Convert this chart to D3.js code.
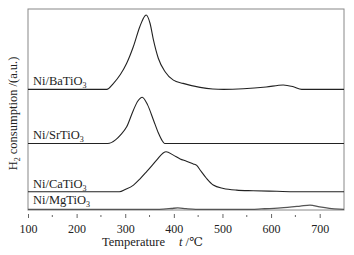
<!DOCTYPE html>
<html>
<head>
<meta charset="utf-8">
<script src="https://cdn.jsdelivr.net/npm/d3@7"></script>
<style>
  body { margin: 0; background: #fff; }
</style>
</head>
<body>
<div id="chart"></div>
<script>
// H2-TPR curves for four Ni/titanate catalysts

// x ticks (temperature, ℃)
const xTicks = [100, 200, 300, 400, 500, 600, 700];
const xMinorTicks = [150, 250, 350, 450, 550, 650];

// series names and vertical offsets (a.u.)
const names = ['BaTiO', 'SrTiO', 'CaTiO', 'MgTiO'];
const offsets = [60.0, 33.1, 9.1, 0.35];

// temperature / signal pairs (signal above its own baseline)
const baT = [100, 262, 275, 290, 303, 316.6, 330, 340.6, 343, 351, 358, 368, 382, 399, 419, 454, 480, 502, 543, 590, 625, 646, 663, 750];
const baV = [0, 0, 2.8, 7.4, 13.0, 21.2, 31.2, 36.6, 37.0, 32.9, 24.6, 15.5, 8.8, 4.6, 3.0, 1.0, 0.2, 0, 0.3, 1.2, 2.2, 1.3, 0, 0];

const srT = [100, 264, 280, 290, 303, 317, 326, 335, 346, 358, 368, 375, 381, 750];
const srV = [0, 0, 1.8, 4.2, 8.3, 16.7, 21.1, 23.0, 19.2, 11.7, 5.3, 1.8, 0, 0];

const caT = [100, 288, 300, 317, 330, 344, 365, 378, 384, 399, 413, 426, 440, 447, 454, 467, 481, 502, 529, 563, 612, 650, 750];
const caV = [0, 0, 1.1, 3.3, 6.3, 10.0, 15.8, 19.3, 19.9, 18.2, 16.3, 15.2, 13.8, 13.1, 10.8, 6.7, 3.3, 1.6, 0.8, 0.5, 0.2, 0, 0];

const mgT = [100, 370, 395, 408, 425, 445, 560, 580, 620, 660, 680, 700, 720, 740, 750];
const mgV = [0, 0, 0.4, 0.7, 0.3, 0, 0, 0.2, 0.7, 1.6, 2.1, 1.2, 0.5, 0.1, 0];

const temps = [baT, srT, caT, mgT];
const values = [baV, srV, caV, mgV];

const width = 354, height = 255;
const margin = { top: 9, right: 10, bottom: 45, left: 28 };
const font = "'Liberation Serif', 'Times New Roman', Times, 'DejaVu Serif', serif";

const svg = d3.select('#chart').append('svg')
    .attr('width', width)
    .attr('height', height)
    .style('display', 'block');

const xScale = d3.scaleLinear()
    .domain([100, 750])
    .range([margin.left, width - margin.right]);

const yScale = d3.scaleLinear()
    .domain([0, 100])
    .range([height - margin.bottom, margin.top]);

const y0 = height - margin.bottom;

// frame
svg.append('rect')
    .attr('x', margin.left)
    .attr('y', margin.top)
    .attr('width', xScale.range()[1] - margin.left)
    .attr('height', y0 - margin.top)
    .attr('fill', 'none')
    .attr('stroke', '#888')
    .attr('stroke-width', 1);

// bottom axis
const xAxis = svg.append('g')
    .attr('transform', `translate(0,${y0})`)
    .call(d3.axisBottom(xScale).tickValues(xTicks).tickSize(8).tickPadding(6));
xAxis.attr('font-family', font).attr('font-size', 12);
xAxis.select('.domain').remove();
xAxis.selectAll('.tick line').attr('y1', 4).attr('stroke', '#666');
xAxis.selectAll('.tick text').attr('fill', '#222');

svg.append('g')
    .selectAll('line')
    .data(xMinorTicks)
    .enter()
    .append('line')
    .attr('x1', d => xScale(d))
    .attr('x2', d => xScale(d))
    .attr('y1', y0 + 5)
    .attr('y2', y0 + 7)
    .attr('stroke', '#666');

// curves
const line = d3.line()
    .x(d => xScale(d[0]))
    .y(d => yScale(d[1]))
    .curve(d3.curveMonotoneX);

names.forEach((name, i) => {
    const pts = temps[i].map((t, j) => [t, values[i][j] + offsets[i]]);
    svg.append('path')
        .datum(pts)
        .attr('fill', 'none')
        .attr('stroke', i === 3 ? '#555' : '#222')
        .attr('stroke-width', i === 3 ? 1.3 : 1.1)
        .attr('d', line);

    // label
    const lbl = svg.append('text')
        .attr('x', 33)
        .attr('y', yScale(offsets[i]) - (i === 3 ? 5 : 4))
        .attr('font-family', font)
        .attr('font-size', 12.5)
        .attr('fill', '#222');
    lbl.append('tspan').text('Ni/' + name);
    lbl.append('tspan').attr('dy', 3).attr('font-size', 8).text('3');
});

// y title
const yt = svg.append('text')
    .attr('transform', `translate(17,${(margin.top + y0) / 2 + 4}) rotate(-90)`)
    .attr('text-anchor', 'middle')
    .attr('font-family', font)
    .attr('font-size', 12.5)
    .attr('fill', '#222');
yt.append('tspan').text('H');
yt.append('tspan').attr('dy', 3).attr('font-size', 8).text('2');
yt.append('tspan').attr('dy', -3).text(' consumption /(a.u.)');

// x title
const xt = svg.append('text')
    .attr('x', 102)
    .attr('y', 246)
    .attr('font-family', font)
    .attr('font-size', 12.5)
    .attr('fill', '#222');
xt.append('tspan').text('Temperature');
xt.append('tspan').attr('dx', 14).attr('font-style', 'italic').text('t');
xt.append('tspan').text(' /℃');
</script>
</body>
</html>
